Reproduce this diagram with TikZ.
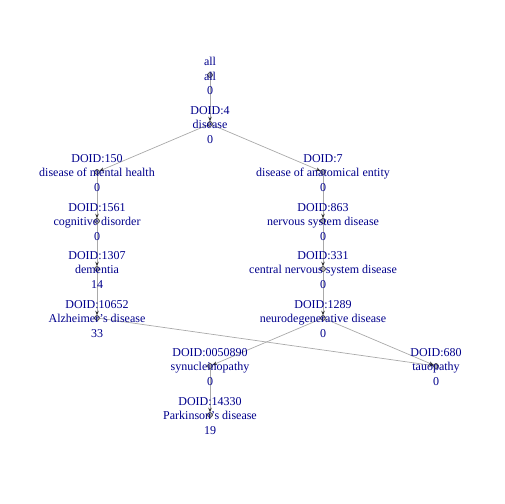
\documentclass[tikz,border=0pt]{standalone}
\usepackage{fontspec}
\setmainfont{Liberation Serif}
\usetikzlibrary{arrows.meta}
\definecolor{lbl}{HTML}{00008B}
\definecolor{edgec}{HTML}{A9A9A9}
\begin{document}
\begin{tikzpicture}[x=1bp,y=-1bp,
  vert/.style={circle,draw=black,fill=gray!60,line width=0.4bp,inner sep=0pt,minimum size=5bp},
  lab/.style={text=lbl,align=center,inner sep=0pt,yshift=-1bp,font=\fontsize{12bp}{14.4bp}\selectfont},
  edge/.style={draw=edgec,line width=0.7bp,-{Stealth[length=4.5bp,width=3.5bp,color=black!80]}}]
\useasboundingbox (0,0) rectangle (504,504);
% vertices
\node[vert] (all) at (210,75) {};
\node[vert] (d4) at (210,124) {};
\node[vert] (d150) at (97,172) {};
\node[vert] (d7) at (323,172) {};
\node[vert] (d1561) at (97,221) {};
\node[vert] (d863) at (323,221) {};
\node[vert] (d1307) at (97,269) {};
\node[vert] (d331) at (323,269) {};
\node[vert] (d10652) at (97,318) {};
\node[vert] (d1289) at (323,318) {};
\node[vert] (d50890) at (210,366) {};
\node[vert] (d680) at (436,366) {};
\node[vert] (d14330) at (210,415) {};
% edges
\draw[edge] (all) -- (d4);
\draw[edge] (d4) -- (d150);
\draw[edge] (d4) -- (d7);
\draw[edge] (d150) -- (d1561);
\draw[edge] (d1561) -- (d1307);
\draw[edge] (d1307) -- (d10652);
\draw[edge] (d7) -- (d863);
\draw[edge] (d863) -- (d331);
\draw[edge] (d331) -- (d1289);
\draw[edge] (d1289) -- (d50890);
\draw[edge] (d1289) -- (d680);
\draw[edge] (d10652) -- (d680);
\draw[edge] (d50890) -- (d14330);
% labels
\node[lab] (Lall) at (all) {all\\all\\0};
\node[lab] (Ld4) at (d4) {DOID:4\\disease\\0};
\node[lab] (Ld150) at (d150) {DOID:150\\disease of mental health\\0};
\node[lab] (Ld7) at (d7) {DOID:7\\disease of anatomical entity\\0};
\node[lab] (Ld1561) at (d1561) {DOID:1561\\cognitive disorder\\0};
\node[lab] (Ld863) at (d863) {DOID:863\\nervous system disease\\0};
\node[lab] (Ld1307) at (d1307) {DOID:1307\\dementia\\14};
\node[lab] (Ld331) at (d331) {DOID:331\\central nervous system disease\\0};
\node[lab] (Ld10652) at (d10652) {DOID:10652\\Alzheimer's disease\\33};
\node[lab] (Ld1289) at (d1289) {DOID:1289\\neurodegenerative disease\\0};
\node[lab] (Ld50890) at (d50890) {DOID:0050890\\synucleinopathy\\0};
\node[lab] (Ld680) at (d680) {DOID:680\\tauopathy\\0};
\node[lab] (Ld14330) at (d14330) {DOID:14330\\Parkinson's disease\\19};
\end{tikzpicture}
\end{document}
